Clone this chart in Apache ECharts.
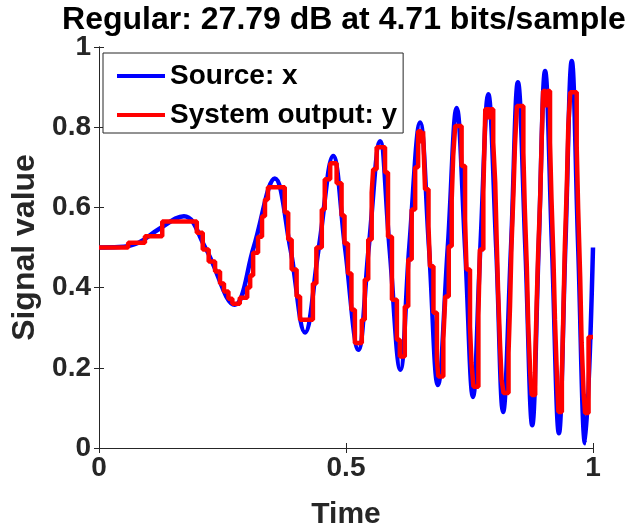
<!DOCTYPE html>
<html>
<head>
<meta charset="utf-8">
<script src="https://cdn.jsdelivr.net/npm/echarts@6/dist/echarts.min.js"></script>
<style>
  html, body { margin: 0; padding: 0; background: #fff; }
  #chart { width: 638px; height: 528px; }
</style>
</head>
<body>
<div id="chart"></div>
<script>
// Source signal x: turning points and mid-level crossings of the chirp
const blueT = [0, 0.04, 0.08, 0.12, 0.172, 0.215, 0.275, 0.313, 0.356, 0.387, 0.417, 0.445,
  0.474, 0.498, 0.525, 0.546, 0.569, 0.588, 0.610, 0.628, 0.650, 0.668, 0.686, 0.706,
  0.724, 0.741, 0.757, 0.772, 0.788, 0.804, 0.818, 0.834, 0.848, 0.863, 0.877, 0.890,
  0.903, 0.917, 0.931, 0.944, 0.957, 0.970, 0.984, 1.0];
const blueV = [0.5, 0.501, 0.512, 0.545, 0.578, 0.5, 0.357, 0.5, 0.672, 0.5, 0.288, 0.5,
  0.728, 0.5, 0.245, 0.5, 0.765, 0.5, 0.195, 0.5, 0.812, 0.5, 0.157, 0.5,
  0.848, 0.5, 0.127, 0.5, 0.882, 0.5, 0.09, 0.5, 0.912, 0.5, 0.057, 0.5,
  0.94, 0.5, 0.037, 0.5, 0.965, 0.5, 0.012, 0.5];

// System output y: held (quantised) levels, each starting at the given time
const redT = [0, 0.059, 0.093, 0.128, 0.198, 0.210, 0.222, 0.235, 0.245, 0.253, 0.262, 0.270,
  0.285, 0.300, 0.306, 0.312, 0.322, 0.330, 0.336, 0.342, 0.376, 0.383, 0.390, 0.400, 0.407,
  0.433, 0.440, 0.451, 0.457, 0.468, 0.481, 0.491, 0.497, 0.504, 0.511, 0.518,
  0.532, 0.538, 0.545, 0.552, 0.555, 0.562, 0.579, 0.585, 0.593, 0.603,
  0.609, 0.619, 0.626, 0.633, 0.640, 0.646, 0.652, 0.656, 0.660, 0.667, 0.670, 0.677, 0.684, 0.687,
  0.697, 0.701, 0.708, 0.714, 0.717, 0.721, 0.734, 0.741, 0.744, 0.751, 0.754, 0.758,
  0.768, 0.771, 0.778, 0.782, 0.790, 0.793, 0.798, 0.802, 0.805, 0.808, 0.812, 0.815, 0.819,
  0.829, 0.832, 0.835, 0.839, 0.842, 0.846, 0.859, 0.862, 0.866, 0.869, 0.873, 0.876,
  0.883, 0.886, 0.889, 0.893, 0.896, 0.899, 0.904, 0.908, 0.913, 0.916, 0.920, 0.923, 0.927, 0.930,
  0.937, 0.940, 0.943, 0.947, 0.950, 0.954, 0.967, 0.970, 0.974, 0.977, 0.981, 0.984, 0.991, 1.0];
const redV = [0.5, 0.512, 0.528, 0.565, 0.537, 0.495, 0.465, 0.440, 0.410, 0.390, 0.372, 0.360,
  0.375, 0.400, 0.430, 0.487, 0.527, 0.578, 0.620, 0.650, 0.587, 0.520, 0.445, 0.378, 0.320,
  0.410, 0.500, 0.595, 0.670, 0.710, 0.660, 0.580, 0.510, 0.435, 0.345, 0.262,
  0.320, 0.420, 0.520, 0.637, 0.695, 0.750, 0.687, 0.527, 0.370, 0.270,
  0.228, 0.353, 0.470, 0.595, 0.700, 0.790, 0.760, 0.790, 0.645, 0.553, 0.453, 0.337, 0.220, 0.178,
  0.270, 0.378, 0.503, 0.620, 0.728, 0.803, 0.703, 0.570, 0.445, 0.303, 0.212, 0.153,
  0.330, 0.495, 0.637, 0.845, 0.820, 0.845, 0.762, 0.663, 0.520, 0.387, 0.253, 0.170, 0.137,
  0.237, 0.353, 0.503, 0.637, 0.753, 0.853, 0.737, 0.595, 0.453, 0.303, 0.187, 0.132,
  0.220, 0.362, 0.487, 0.620, 0.762, 0.890, 0.850, 0.890, 0.762, 0.620, 0.470, 0.320, 0.178, 0.090,
  0.178, 0.337, 0.503, 0.653, 0.803, 0.887, 0.753, 0.595, 0.428, 0.262, 0.137, 0.087, 0.277, 0.277];

const xTicks = [0, 0.5, 1];
const yTicks = [0, 0.2, 0.4, 0.6, 0.8, 1];

const FONT = "'Liberation Sans', Arial, Helvetica, sans-serif";
const INK = '#262626';

const pairs = (t, v) => t.map((ti, i) => [ti, v[i]]);

const chart = echarts.init(document.getElementById('chart'), null, { renderer: 'canvas' });

const boxAxis = {
  axisLine: { show: true, lineStyle: { color: INK, width: 1 } },
  axisTick: { show: true, inside: true, length: 5, lineStyle: { color: INK, width: 1 } },
  splitLine: { show: false }
};

chart.setOption({
  animation: false,
  backgroundColor: '#fff',
  grid: { left: 99, right: 45, top: 47, bottom: 80, containLabel: false, outerBoundsMode: 'none' },
  graphic: [{
    type: 'text',
    x: 344, y: 4,
    style: {
      text: 'Regular: 27.79 dB at 4.71 bits/sample',
      textAlign: 'center',
      textVerticalAlign: 'top',
      font: 'bold 32px ' + FONT,
      fill: '#000'
    }
  }],
  legend: {
    orient: 'vertical',
    left: 103, top: 53,
    padding: [9, 6, 4, 14],
    itemGap: 11,
    itemWidth: 48,
    itemHeight: 4,
    itemTextGap: 7,
    icon: 'rect',
    borderColor: INK,
    borderWidth: 1,
    backgroundColor: '#fff',
    textStyle: { fontFamily: FONT, fontWeight: 'bold', fontSize: 28, color: '#000', lineHeight: 28 },
    data: ['Source: x', 'System output: y']
  },
  xAxis: [
    Object.assign({
      type: 'value', min: xTicks[0], max: xTicks[xTicks.length - 1], interval: 0.5,
      position: 'bottom',
      name: 'Time', nameLocation: 'middle', nameGap: 52,
      nameTextStyle: { fontFamily: FONT, fontWeight: 'bold', fontSize: 30, color: INK },
      axisLabel: { fontFamily: FONT, fontWeight: 'bold', fontSize: 28, color: INK, margin: 6 }
    }, boxAxis),
    Object.assign({
      type: 'value', min: 0, max: 1, interval: 0.5, position: 'top',
      axisLabel: { show: false }
    }, boxAxis)
  ],
  yAxis: [
    Object.assign({
      type: 'value', min: yTicks[0], max: yTicks[yTicks.length - 1], interval: 0.2,
      position: 'left',
      name: 'Signal value', nameLocation: 'middle', nameGap: 56,
      nameTextStyle: { fontFamily: FONT, fontWeight: 'bold', fontSize: 32, color: INK },
      axisLabel: { fontFamily: FONT, fontWeight: 'bold', fontSize: 28, color: INK, margin: 8 }
    }, boxAxis),
    Object.assign({
      type: 'value', min: 0, max: 1, interval: 0.2, position: 'right',
      axisLabel: { show: false }
    }, boxAxis)
  ],
  series: [
    {
      name: 'Source: x',
      type: 'line',
      xAxisIndex: 0, yAxisIndex: 0,
      data: pairs(blueT, blueV),
      smooth: 0.4,
      symbol: 'none',
      lineStyle: { color: '#0000ff', width: 4.5 },
      itemStyle: { color: '#0000ff' },
      z: 2
    },
    {
      name: 'System output: y',
      type: 'line',
      xAxisIndex: 0, yAxisIndex: 0,
      data: pairs(redT, redV),
      step: 'end',
      symbol: 'none',
      lineStyle: { color: '#ff0000', width: 4.5 },
      itemStyle: { color: '#ff0000' },
      z: 3
    }
  ]
});
</script>
</body>
</html>
